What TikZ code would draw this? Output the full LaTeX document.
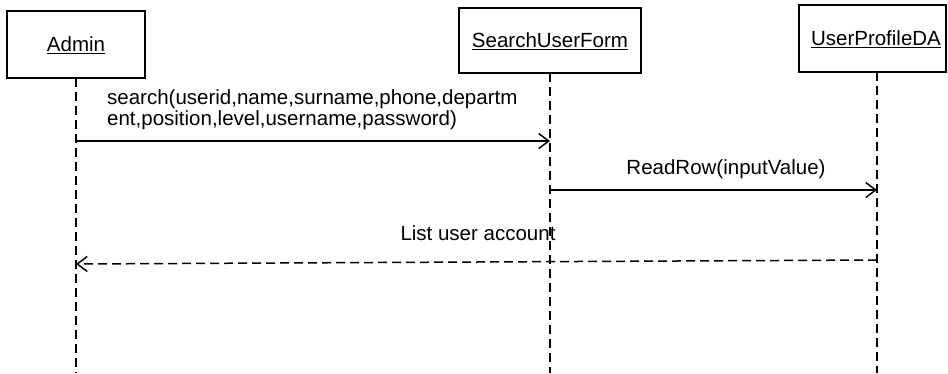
\documentclass[tikz,border=0pt]{standalone}
\usepackage{fontspec}
\setmainfont{Liberation Sans}
\usetikzlibrary{arrows.meta}

\tikzset{
  objbox/.style={draw, line width=1.6pt, rectangle, inner sep=0pt,
    font=\fontsize{20.5}{21.5}\selectfont, text height=14.7pt, text depth=0pt},
  lifeline/.style={line width=1.5pt, dash pattern=on 9pt off 5pt},
  callmsg/.style={line width=1.5pt, -{Straight Barb[length=10pt,width=15pt,line width=1.5pt]}},
  replymsg/.style={line width=1.5pt, dash pattern=on 9pt off 5pt,
    -{Straight Barb[length=10pt,width=15pt,line width=1.5pt]}},
  msglabel/.style={inner sep=0pt, font=\fontsize{20.5}{21}\selectfont}
}

\begin{document}
\begin{tikzpicture}[x=1pt, y=-1pt]
  \useasboundingbox (0,0) rectangle (948,373);

  % participants
  \node[objbox, minimum width=138pt, minimum height=67pt] (admin) at (76,44.5) {\underline{Admin}};
  \node[objbox, minimum width=182pt, minimum height=65pt] (suf) at (550,40.5) {\underline{SearchUserForm}};
  \node[objbox, minimum width=147pt, minimum height=67pt] (upda) at (872.5,38.5) {\hspace*{7pt}\underline{UserProfileDA}};

  % lifeline ends
  \coordinate (aTop) at (76,78);
  \coordinate (aBot) at (76,373);
  \coordinate (sTop) at (550,73);
  \coordinate (sBot) at (550,373);
  \coordinate (uTop) at (877,72);
  \coordinate (uBot) at (877,373);

  \draw[lifeline] (aTop) -- (aBot);
  \draw[lifeline] (sTop) -- (sBot);
  \draw[lifeline] (uTop) -- (uBot);

  % message end points on the lifelines
  \coordinate (m1a) at (76,141);
  \coordinate (m1b) at (550,141);
  \coordinate (m2a) at (550,190);
  \coordinate (m2b) at (877,190);
  \coordinate (m3a) at (877,260);
  \coordinate (m3b) at (76,264);

  \draw[callmsg] (m1a) -- (m1b);
  \draw[callmsg] (m2a) -- (m2b);
  \draw[replymsg] (m3a) -- (m3b);

  % message labels
  \node[msglabel, align=left, anchor=north west] (l1) at (107,89)
    {search(userid,name,surname,phone,departm\\ent,position,level,username,password)};
  \node[msglabel, anchor=base] (l2) at (726,174) {ReadRow(inputValue)};
  \node[msglabel, anchor=base] (l3) at (478,240) {List user account};
\end{tikzpicture}
\end{document}
